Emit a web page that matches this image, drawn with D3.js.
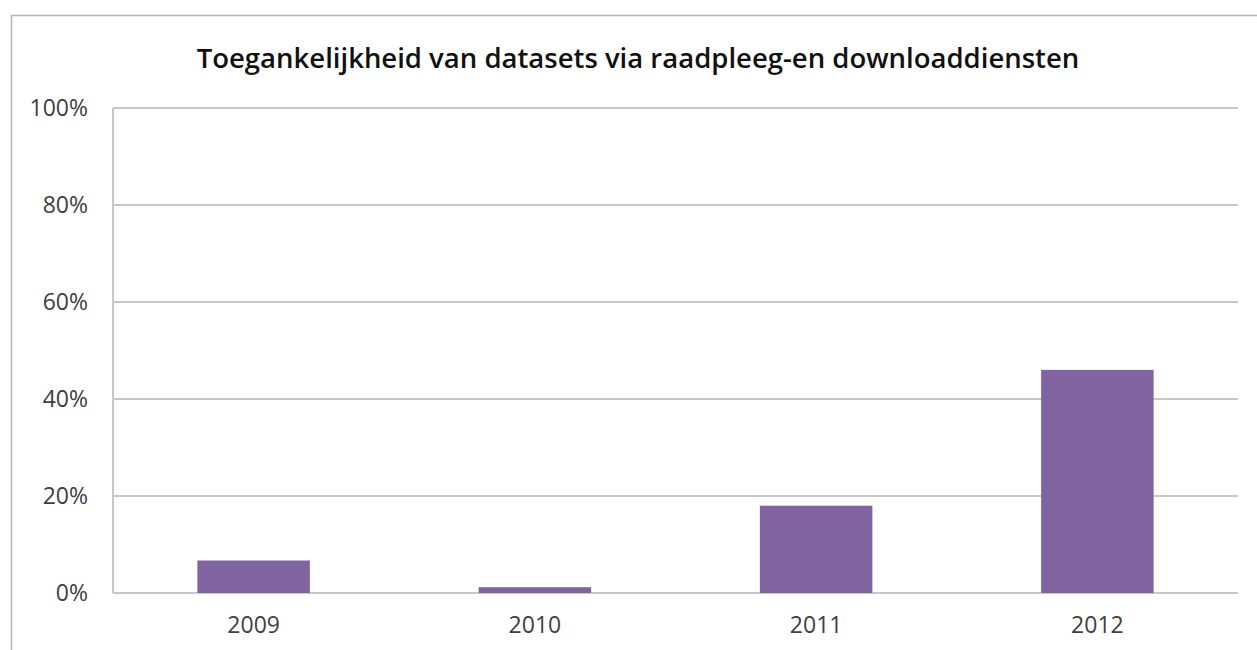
<!DOCTYPE html>
<html>
<head>
<meta charset="utf-8">
<script src="https://cdn.jsdelivr.net/npm/d3@7"></script>
<style>
  body { margin: 0; background: #fff; }
  text { font-family: "Open Sans", "Noto Sans", sans-serif; fill: #404040; }
</style>
</head>
<body>
<div class="chart"></div>
<script>
// Data
var years = ["2009", "2010", "2011", "2012"];
var shares = [0.067, 0.012, 0.18, 0.46];
var yTicks = [0, 0.2, 0.4, 0.6, 0.8, 1.0];
var title = "Toegankelijkheid van datasets via raadpleeg-en downloaddiensten";

// Set dimensions of canvas
var outerWidth = 1257;
var outerHeight = 650;
var plot = { left: 113, right: 1238, top: 108, bottom: 593 };

var svg = d3.select(".chart").append("svg")
  .attr("width", outerWidth)
  .attr("height", outerHeight);

// Outer frame of the chart object
svg.append("rect")
  .attr("x", 11.5).attr("y", 15.5)
  .attr("width", 1260).attr("height", 660)
  .attr("fill", "none")
  .attr("stroke", "#b4b4b4")
  .attr("stroke-width", 1.5);

// Scales
var xScale = d3.scaleBand()
  .domain(years)
  .range([plot.left, plot.right])
  .paddingInner(0.6)
  .paddingOuter(0.3);

var yScale = d3.scaleLinear()
  .domain([0, 1])
  .range([plot.bottom, plot.top]);

// Gridlines
svg.append("g").selectAll("line").data(yTicks)
  .enter().append("line")
    .attr("x1", plot.left).attr("x2", plot.right)
    .attr("y1", function(d) { return yScale(d); })
    .attr("y2", function(d) { return yScale(d); })
    .attr("stroke", "#c8c8c8")
    .attr("stroke-width", 2);

// Y axis line
svg.append("line")
  .attr("x1", plot.left).attr("x2", plot.left)
  .attr("y1", plot.top).attr("y2", plot.bottom)
  .attr("stroke", "#c8c8c8")
  .attr("stroke-width", 2);

// Y axis labels
var yAxis = d3.axisLeft(yScale)
  .tickValues(yTicks)
  .tickFormat(d3.format(".0%"))
  .tickSize(0)
  .tickPadding(25);

var gy = svg.append("g")
  .attr("transform", "translate(" + plot.left + ",0)")
  .call(yAxis);
gy.select(".domain").remove();
gy.selectAll("text")
  .style("font-size", "23px")
  .attr("fill", "#3a3a3a");

// X axis labels
var xAxis = d3.axisBottom(xScale).tickSize(0).tickPadding(24);
var gx = svg.append("g")
  .attr("transform", "translate(0," + plot.bottom + ")")
  .call(xAxis);
gx.select(".domain").remove();
gx.selectAll("text")
  .style("font-size", "23px")
  .attr("fill", "#3a3a3a");

// Bars
svg.append("g").selectAll("rect").data(shares)
  .enter().append("rect")
    .attr("x", function(d, i) { return xScale(years[i]); })
    .attr("y", function(d) { return yScale(d); })
    .attr("width", xScale.bandwidth())
    .attr("height", function(d) { return plot.bottom - yScale(d); })
    .attr("fill", "#8064a2");

// Title
svg.append("text")
  .attr("x", 638)
  .attr("y", 68)
  .attr("text-anchor", "middle")
  .style("font-size", "27.5px")
  .style("font-weight", "600")
  .style("fill", "#111")
  .text(title);
</script>
</body>
</html>
